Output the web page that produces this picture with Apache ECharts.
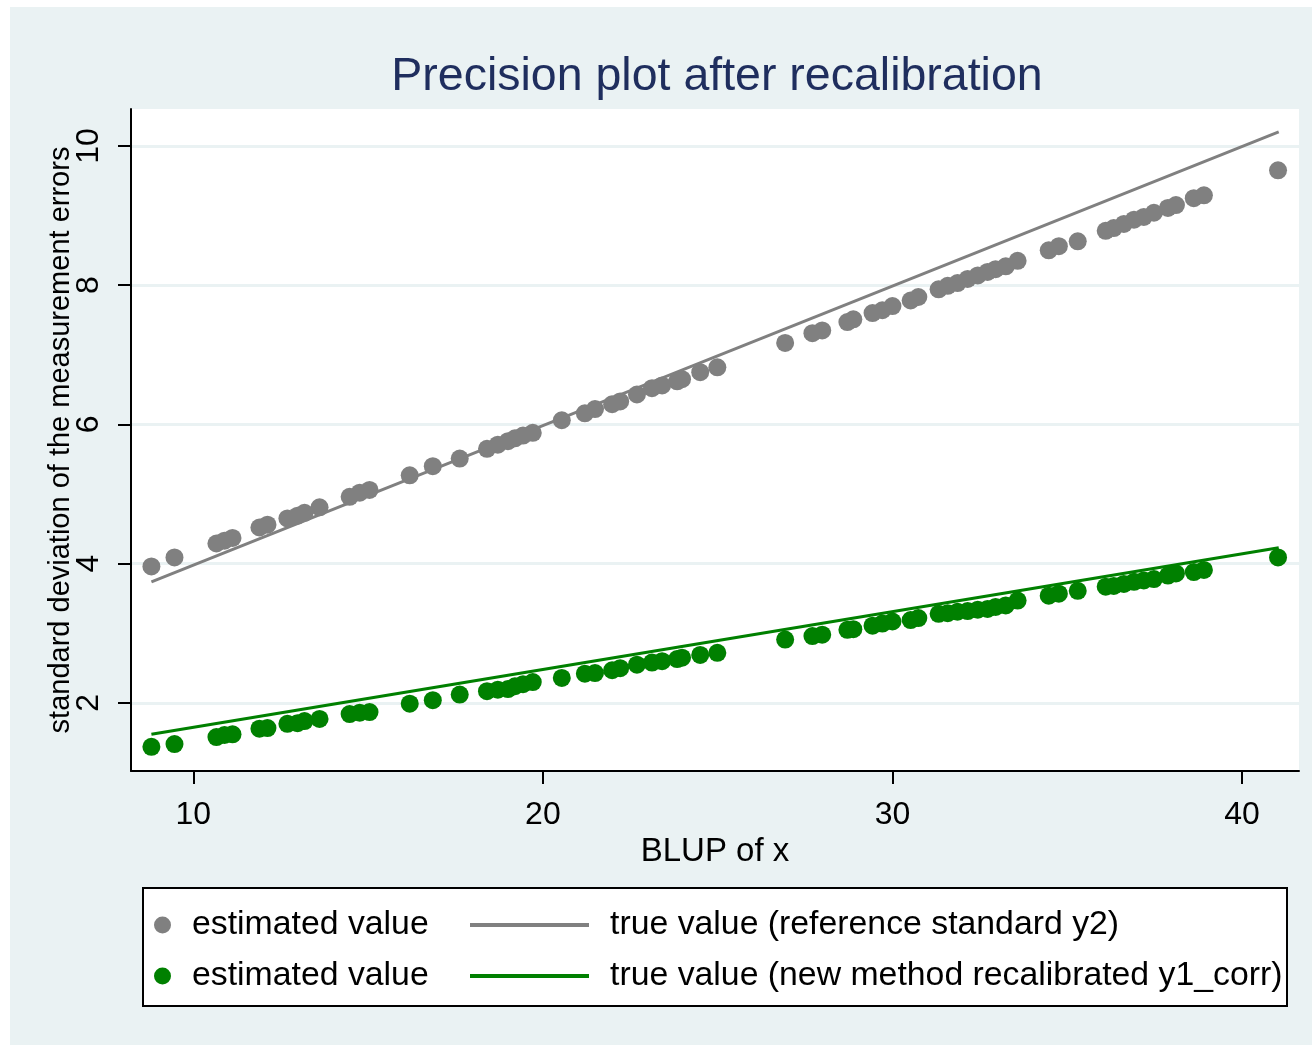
<!DOCTYPE html>
<html>
<head>
<meta charset="utf-8">
<script src="https://cdn.jsdelivr.net/npm/echarts@6/dist/echarts.min.js"></script>
<style>
html,body{margin:0;padding:0;background:#fff;}
#chart{width:1312px;height:1051px;}
</style>
</head>
<body>
<div id="chart"></div>
<script>
// ---- data ----
const blupX = [8.80, 9.46, 10.66, 10.89, 11.12, 11.89, 12.12, 12.69, 12.98, 13.18, 13.61, 14.47, 14.76, 15.04, 16.19, 16.85, 17.62, 18.40, 18.71, 19.00, 19.20, 19.43, 19.71, 20.54, 21.20, 21.49, 21.98, 22.21, 22.69, 23.12, 23.41, 23.84, 23.98, 24.50, 24.99, 26.93, 27.71, 27.99, 28.71, 28.88, 29.43, 29.71, 30.00, 30.52, 30.74, 31.32, 31.58, 31.86, 32.15, 32.44, 32.72, 32.95, 33.24, 33.58, 34.47, 34.76, 35.30, 36.10, 36.33, 36.62, 36.91, 37.19, 37.48, 37.88, 38.11, 38.62, 38.91, 41.03];
const estRef = [3.96, 4.09, 4.29, 4.33, 4.37, 4.52, 4.56, 4.65, 4.69, 4.73, 4.81, 4.96, 5.02, 5.06, 5.27, 5.40, 5.51, 5.65, 5.71, 5.76, 5.80, 5.84, 5.88, 6.06, 6.16, 6.22, 6.29, 6.33, 6.43, 6.52, 6.56, 6.62, 6.65, 6.75, 6.82, 7.17, 7.31, 7.35, 7.47, 7.51, 7.60, 7.64, 7.70, 7.78, 7.83, 7.94, 7.99, 8.03, 8.09, 8.14, 8.19, 8.23, 8.27, 8.35, 8.50, 8.56, 8.63, 8.78, 8.82, 8.88, 8.94, 8.98, 9.04, 9.11, 9.15, 9.25, 9.29, 9.65];
const estNew = [1.37, 1.41, 1.51, 1.54, 1.55, 1.63, 1.64, 1.70, 1.71, 1.74, 1.77, 1.84, 1.86, 1.87, 1.99, 2.04, 2.12, 2.17, 2.19, 2.20, 2.24, 2.27, 2.30, 2.36, 2.42, 2.43, 2.47, 2.50, 2.55, 2.58, 2.60, 2.63, 2.65, 2.69, 2.72, 2.91, 2.96, 2.98, 3.05, 3.06, 3.11, 3.14, 3.17, 3.19, 3.22, 3.28, 3.29, 3.31, 3.32, 3.34, 3.35, 3.38, 3.40, 3.47, 3.54, 3.57, 3.61, 3.67, 3.68, 3.71, 3.74, 3.76, 3.78, 3.83, 3.86, 3.88, 3.91, 4.09];
const trueX = [8.80, 41.05];
const trueRef = [3.74, 10.20];
const trueNew = [1.55, 4.23];
const xTicks = [10, 20, 30, 40];
const yTicks = [2, 4, 6, 8, 10];
const titleText = 'Precision plot after recalibration';
const xTitle = 'BLUP of x';
const yTitle = 'standard deviation of the measurement errors';
const legendEst = 'estimated value';
const legendRef = 'true value (reference standard y2)';
const legendNew = 'true value (new method recalibrated y1_corr)';

const zip = (xs, ys) => xs.map((x, i) => [x, ys[i]]);
const FONT = '"Liberation Sans", Arial, sans-serif';
const BG = '#eaf2f3';
const GRAY = '#808080';
const GREEN = '#008000';
const nameMap = { estA: legendEst, estB: legendEst, lineA: legendRef, lineB: legendNew };

const chart = echarts.init(document.getElementById('chart'), null, { renderer: 'canvas' });
chart.setOption({
  backgroundColor: '#ffffff',
  animation: false,
  graphic: [
    { type: 'rect', z: -10, shape: { x: 10, y: 7, width: 1302, height: 1038 }, style: { fill: BG } },
    { type: 'rect', z: 1, shape: { x: 143, y: 888, width: 1144, height: 118 }, style: { fill: '#fff', stroke: '#000', lineWidth: 2 } }
  ],
  title: {
    text: titleText,
    left: 712,
    textAlign: 'center',
    top: 49,
    textStyle: { fontFamily: FONT, fontSize: 46.5, fontWeight: 'normal', color: '#1f2e5e' }
  },
  grid: {
    left: 131, right: 13, top: 109, bottom: 280,
    show: true, backgroundColor: '#ffffff', borderWidth: 0
  },
  xAxis: {
    type: 'value', min: 8.216, max: 41.63,
    name: xTitle, nameLocation: 'middle', nameGap: 62,
    nameTextStyle: { fontFamily: FONT, fontSize: 33, color: '#000' },
    axisLine: { show: true, onZero: false, lineStyle: { color: '#000', width: 2 } },
    axisTick: { show: true, length: 13, lineStyle: { color: '#000', width: 2 }, customValues: xTicks },
    axisLabel: { fontFamily: FONT, fontSize: 32, color: '#000', margin: 28, customValues: xTicks },
    splitLine: { show: false }
  },
  yAxis: {
    type: 'value', min: 1.023, max: 10.53,
    name: yTitle, nameLocation: 'middle', nameGap: 56, nameRotate: 90, nameMoveOverlap: false,
    nameTextStyle: { fontFamily: FONT, fontSize: 29, color: '#000' },
    axisLine: { show: true, onZero: false, lineStyle: { color: '#000', width: 2 } },
    axisTick: { show: true, length: 13, lineStyle: { color: '#000', width: 2 }, customValues: yTicks },
    axisLabel: { fontFamily: FONT, fontSize: 32, color: '#000', margin: 26, rotate: 90, customValues: yTicks },
    splitLine: { show: true, lineStyle: { color: BG, width: 3 } }
  },
  legend: [
    {
      data: [{ name: 'estA', icon: 'circle' }, { name: 'estB', icon: 'circle' }],
      orient: 'vertical', left: 149, top: 903, z: 5, padding: 5,
      itemWidth: 17, itemHeight: 17, itemGap: 17, selectedMode: false,
      formatter: n => nameMap[n],
      textStyle: { fontFamily: FONT, fontSize: 33.8, color: '#000', lineHeight: 34, padding: [0, 0, 0, 16] }
    },
    {
      data: [{ name: 'lineA', icon: 'rect' }, { name: 'lineB', icon: 'rect' }],
      orient: 'vertical', left: 465, top: 903, z: 5, padding: 5,
      itemWidth: 119, itemHeight: 4, itemGap: 17, selectedMode: false,
      formatter: n => nameMap[n],
      textStyle: { fontFamily: FONT, fontSize: 33.8, color: '#000', lineHeight: 34, padding: [0, 0, 0, 16] }
    }
  ],
  series: [
    { name: 'estA', type: 'scatter', data: zip(blupX, estRef), symbol: 'circle', symbolSize: 18, color: GRAY, itemStyle: { color: GRAY, opacity: 1 }, z: 2 },
    { name: 'estB', type: 'scatter', data: zip(blupX, estNew), symbol: 'circle', symbolSize: 18, color: GREEN, itemStyle: { color: GREEN, opacity: 1 }, z: 2 },
    { name: 'lineA', type: 'line', data: zip(trueX, trueRef), showSymbol: false, symbol: 'none', color: GRAY, itemStyle: { color: GRAY }, lineStyle: { color: GRAY, width: 3 }, z: 3 },
    { name: 'lineB', type: 'line', data: zip(trueX, trueNew), showSymbol: false, symbol: 'none', color: GREEN, itemStyle: { color: GREEN }, lineStyle: { color: GREEN, width: 3 }, z: 3 }
  ]
});
</script>
</body>
</html>
